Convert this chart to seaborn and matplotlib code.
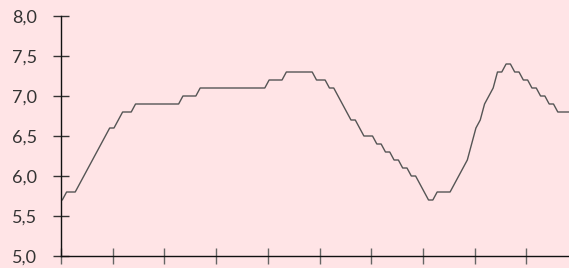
import matplotlib
matplotlib.use("Agg")
import matplotlib.pyplot as plt
import matplotlib.ticker as mticker
import numpy as np
import pandas as pd
import seaborn as sns

# monthly values
values = [5.7, 5.8, 5.8, 5.8, 5.9, 6.0, 6.1, 6.2, 6.3, 6.4, 6.5, 6.6,
          6.6, 6.7, 6.8, 6.8, 6.8, 6.9, 6.9, 6.9, 6.9, 6.9, 6.9, 6.9,
          6.9, 6.9, 6.9, 6.9, 7.0, 7.0, 7.0, 7.0, 7.1, 7.1, 7.1, 7.1,
          7.1, 7.1, 7.1, 7.1, 7.1, 7.1, 7.1, 7.1, 7.1, 7.1, 7.1, 7.1,
          7.2, 7.2, 7.2, 7.2, 7.3, 7.3, 7.3, 7.3, 7.3, 7.3, 7.3, 7.2,
          7.2, 7.2, 7.1, 7.1, 7.0, 6.9, 6.8, 6.7, 6.7, 6.6, 6.5, 6.5,
          6.5, 6.4, 6.4, 6.3, 6.3, 6.2, 6.2, 6.1, 6.1, 6.0, 6.0, 5.9,
          5.8, 5.7, 5.7, 5.8, 5.8, 5.8, 5.8, 5.9, 6.0, 6.1, 6.2, 6.4,
          6.6, 6.7, 6.9, 7.0, 7.1, 7.3, 7.3, 7.4, 7.4, 7.3, 7.3, 7.2,
          7.2, 7.1, 7.1, 7.0, 7.0, 6.9, 6.9, 6.8, 6.8, 6.8, 6.8]
months = np.arange(len(values))
yticks = [5.0, 5.5, 6.0, 6.5, 7.0, 7.5, 8.0]

df = pd.DataFrame({'month': months, 'value': values})

bg = '#ffe4e6'
sns.set_style('white')
plt.rcParams['font.family'] = ['Lato', 'DejaVu Sans']

fig = plt.figure(figsize=(5.69, 2.68), dpi=100, facecolor=bg)
ax = fig.add_axes([61 / 569, 12 / 268, 508 / 569, 240 / 268])
ax.set_facecolor(bg)

sns.lineplot(x='month', y='value', data=df, ax=ax, color='#555555', linewidth=1.0)

ax.set_xlim(-0.3, 117.6)
ax.set_ylim(5.0, 8.0)
ax.set_xticks(np.arange(-0.3, 117, 12))
ax.set_xticklabels([])
ax.set_yticks(yticks)
ax.yaxis.set_major_formatter(mticker.FuncFormatter(lambda v, p: f'{v:.1f}'.replace('.', ',')))

for side in ['top', 'right']:
    ax.spines[side].set_visible(False)
for side in ['left', 'bottom']:
    ax.spines[side].set_color('#111111')
    ax.spines[side].set_linewidth(1.0)

ax.tick_params(axis='y', left=True, direction='inout', length=12, width=1, color='#333333',
               labelsize=13, labelcolor='#333333', pad=11)
ax.tick_params(axis='x', bottom=True, direction='inout', length=12, width=1, color='#666666')
ax.set_xlabel('')
ax.set_ylabel('')

plt.savefig('out.png', dpi=100, facecolor=bg)
plt.close()
